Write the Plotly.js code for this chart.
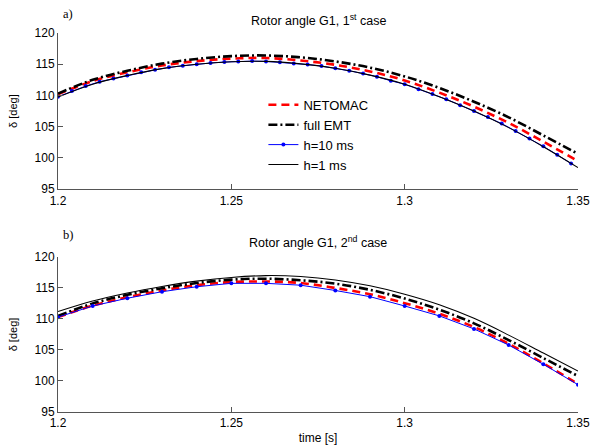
<!DOCTYPE html>
<html><head><meta charset="utf-8">
<script src="https://cdn.plot.ly/plotly-3.0.1.min.js"></script>
<style>html,body{margin:0;padding:0;background:#fff}#chart{width:607px;height:446px}</style>
</head><body><div id="chart"></div>
<script>
// ---- data ----
const xTickVals = [1.2, 1.25, 1.3, 1.35];
const xTickText = ['1.2', '1.25', '1.3', '1.35'];
const yTickVals = [95, 100, 105, 110, 115, 120];

const tGrid = [1.20, 1.21, 1.22, 1.23, 1.24, 1.25, 1.26, 1.27, 1.28, 1.29, 1.30, 1.31, 1.32, 1.33, 1.34, 1.35];

// a) 1st case
const topNetomac = [110.2, 112.3, 113.7, 114.8, 115.5, 115.9, 116.0, 115.6, 114.9, 113.85, 112.4, 110.45, 108.2, 105.6, 102.6, 99.5];
const topFullEMT = [110.3, 112.5, 113.95, 115.1, 115.85, 116.3, 116.4, 116.1, 115.45, 114.45, 113.05, 111.2, 109.0, 106.5, 103.6, 100.65];
const topH1 = [109.75, 111.8, 113.2, 114.3, 115.0, 115.4, 115.45, 115.05, 114.35, 113.25, 111.8, 109.8, 107.5, 104.85, 101.8, 98.45];
const tTopH10 = [1.200, 1.204, 1.208, 1.212, 1.216, 1.220, 1.224, 1.228, 1.232, 1.236,
                 1.240, 1.244, 1.248, 1.252, 1.256, 1.260, 1.264, 1.268, 1.272, 1.276,
                 1.280, 1.284, 1.288, 1.292, 1.296, 1.300, 1.304, 1.308, 1.312, 1.316,
                 1.320, 1.324, 1.328, 1.332, 1.336, 1.340, 1.344, 1.348];
const topH10 = [109.8, 110.7, 111.5, 112.2, 112.7, 113.2, 113.7, 114.1, 114.5, 114.75,
                115.0, 115.2, 115.35, 115.45, 115.5, 115.45, 115.3, 115.1, 114.95, 114.7,
                114.35, 113.95, 113.5, 113.0, 112.35, 111.8, 111.0, 110.25, 109.4, 108.45,
                107.5, 106.55, 105.5, 104.3, 103.1, 101.85, 100.5, 99.1];

// b) 2nd case
const botNetomac = [110.3, 112.15, 113.5, 114.6, 115.45, 115.95, 116.05, 115.8, 115.0, 114.0, 112.55, 110.85, 108.7, 106.0, 102.85, 99.5];
const botFullEMT = [110.5, 112.5, 113.9, 114.95, 115.8, 116.35, 116.5, 116.25, 115.7, 114.7, 113.3, 111.5, 109.3, 106.6, 103.7, 100.8];
const botH10 = [110.3, 112.1, 113.35, 114.4, 115.2, 115.75, 115.75, 115.45, 114.6, 113.6, 112.1, 110.5, 108.4, 105.8, 102.7, 99.4];
const botH1 = [111.2, 112.9, 114.2, 115.25, 116.1, 116.7, 117.0, 116.85, 116.3, 115.35, 114.0, 112.3, 110.1, 107.4, 104.5, 101.6];

const seriesNames = ['NETOMAC', 'full EMT', 'h=10 ms', 'h=1 ms'];

// ---- styles ----
const sNet = {color: '#ff0000', width: 2.6, dash: '8px,5px', shape: 'spline'};
const sEmt = {color: '#000000', width: 2.6, dash: '9px,3px,2px,3px', shape: 'spline'};
const sH10 = {color: '#0000ff', width: 1};
const sH1 = {color: '#000000', width: 1.1, shape: 'spline'};
const mH10 = {color: '#0000ff', size: 4, symbol: 'circle'};

function traces(xa, ya, net, emt, t10, h10, h1, show) {
  return [
    {x: tGrid, y: net, xaxis: xa, yaxis: ya, mode: 'lines', name: seriesNames[0], line: sNet, showlegend: show},
    {x: tGrid, y: emt, xaxis: xa, yaxis: ya, mode: 'lines', name: seriesNames[1], line: sEmt, showlegend: show},
    {x: t10, y: h10, xaxis: xa, yaxis: ya, mode: 'lines+markers', name: seriesNames[2], line: sH10, marker: mH10, showlegend: show},
    {x: tGrid, y: h1, xaxis: xa, yaxis: ya, mode: 'lines', name: seriesNames[3], line: sH1, showlegend: show}
  ];
}

const data = [].concat(
  traces('x', 'y', topNetomac, topFullEMT, tTopH10, topH10, topH1, true),
  traces('x2', 'y2', botNetomac, botFullEMT, tGrid, botH10, botH1, false)
);

const axisColor = '#555555';
const tickFont = {family: 'Liberation Sans, Arial, sans-serif', size: 12, color: '#000'};
function xAxis(extra) {
  return Object.assign({
    range: [1.2, 1.35], tickmode: 'array', tickvals: xTickVals, ticktext: xTickText,
    showline: true, linecolor: axisColor, linewidth: 1, ticks: 'inside', ticklen: 5,
    tickcolor: axisColor, showgrid: false, zeroline: false, tickfont: tickFont,
    automargin: false, mirror: false
  }, extra);
}
function yAxis(extra) {
  return Object.assign({
    range: [95, 120], tickmode: 'array', tickvals: yTickVals,
    showline: true, linecolor: axisColor, linewidth: 1, ticks: 'inside', ticklen: 5,
    tickcolor: axisColor, showgrid: false, zeroline: false, tickfont: tickFont,
    automargin: false, mirror: false,
    title: {text: 'δ [deg]', font: {family: 'Liberation Sans, Arial, sans-serif', size: 11, color: '#000'}, standoff: 14}
  }, extra);
}

const titleFont = {family: 'Liberation Sans, Arial, sans-serif', size: 12.5, color: '#000'};
const labelFont = {family: 'Liberation Serif, Times New Roman, serif', size: 12.5, color: '#000'};

const layout = {
  width: 607, height: 446,
  margin: {l: 58, r: 29, t: 33, b: 34},
  paper_bgcolor: '#fff', plot_bgcolor: '#fff',
  showlegend: true,
  xaxis: xAxis({domain: [0, 1], anchor: 'y'}),
  yaxis: yAxis({domain: [0.588, 1], anchor: 'x'}),
  xaxis2: xAxis({domain: [0, 1], anchor: 'y2',
    title: {text: 'time [s]', font: {family: 'Liberation Sans, Arial, sans-serif', size: 12, color: '#000'}, standoff: 4}}),
  yaxis2: yAxis({domain: [0, 0.409], anchor: 'x2'}),
  legend: {x: 0.395, y: 0.85, xanchor: 'left', yanchor: 'top', bgcolor: 'rgba(0,0,0,0)',
    font: {family: 'Liberation Sans, Arial, sans-serif', size: 13, color: '#000'}, tracegroupgap: 0},
  annotations: [
    {text: 'Rotor angle G1, 1<sup>st</sup> case', xref: 'paper', yref: 'paper', x: 0.5, y: 1.034,
     xanchor: 'center', yanchor: 'middle', showarrow: false, font: titleFont},
    {text: 'Rotor angle G1, 2<sup>nd</sup> case', xref: 'paper', yref: 'paper', x: 0.5, y: 0.449,
     xanchor: 'center', yanchor: 'middle', showarrow: false, font: titleFont},
    {text: 'a)', xref: 'paper', yref: 'paper', x: 0.005, y: 1.05,
     xanchor: 'left', yanchor: 'middle', showarrow: false, font: labelFont},
    {text: 'b)', xref: 'paper', yref: 'paper', x: 0.005, y: 0.467,
     xanchor: 'left', yanchor: 'middle', showarrow: false, font: labelFont}
  ]
};

Plotly.newPlot('chart', data, layout, {displayModeBar: false, staticPlot: true});
</script>
</body></html>
